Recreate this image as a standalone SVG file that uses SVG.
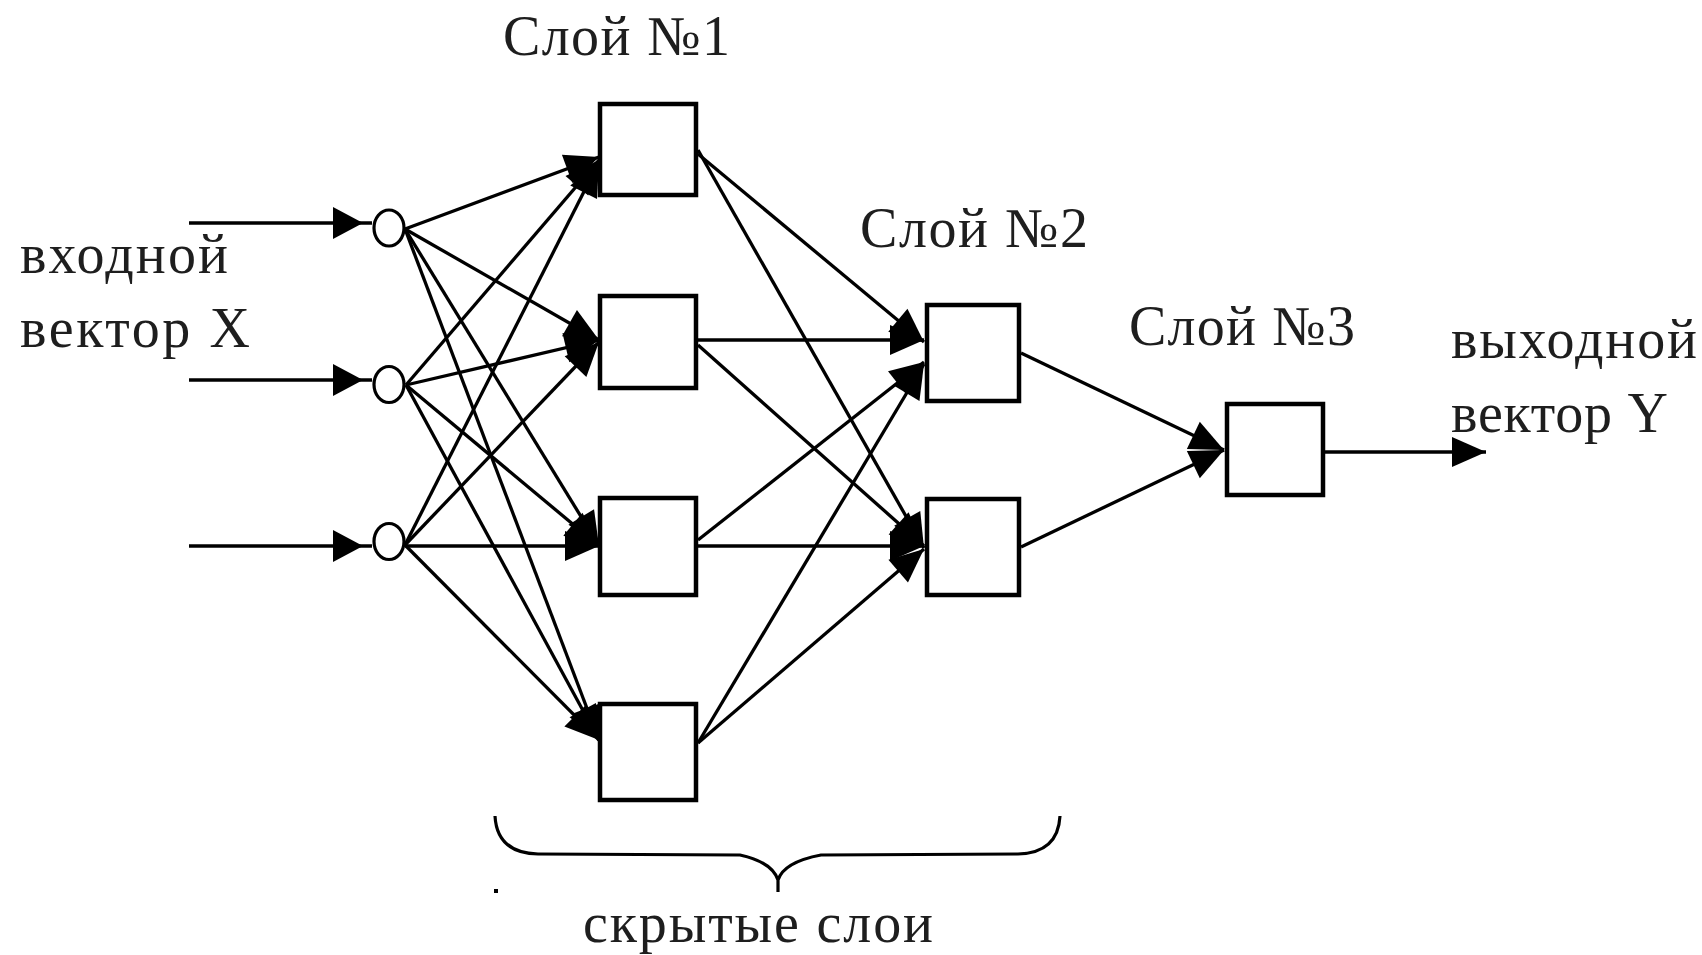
<svg xmlns="http://www.w3.org/2000/svg" width="1702" height="955" viewBox="0 0 1702 955">
<style>
  .bg{fill:#ffffff}
  .box{fill:#ffffff;stroke:#000;stroke-width:4.5}
  .inp{fill:#ffffff;stroke:#000;stroke-width:3.2}
  .conn line{stroke:#000;stroke-width:3.3;fill:none}
  .brace{fill:none;stroke:#000;stroke-width:3.2}
  text{font-family:"Liberation Serif","Times New Roman",serif;font-size:56px;fill:#1e1e1e}
</style>
<defs>
  <marker id="ah" markerUnits="userSpaceOnUse" markerWidth="36" markerHeight="32" refX="34" refY="15" orient="auto" overflow="visible">
    <path d="M0,0 L34,15 L0,30 z" fill="#000"/>
  </marker>
  <marker id="ahin" markerUnits="userSpaceOnUse" markerWidth="42" markerHeight="34" refX="39" refY="16" orient="auto" overflow="visible">
    <path d="M0,0 L30,16 L0,32 z" fill="#000"/>
  </marker>
</defs>
<rect class="bg" x="0" y="0" width="1702" height="955"/>

<g id="connectors" class="conn">
  <!-- inputs -->
  <line x1="189" y1="223" x2="372" y2="223" marker-end="url(#ahin)"/>
  <line x1="189" y1="380" x2="372" y2="380" marker-end="url(#ahin)"/>
  <line x1="189" y1="546" x2="372" y2="546" marker-end="url(#ahin)"/>
  <!-- circle 1 to layer 1 -->
  <line x1="405" y1="229" x2="599" y2="157" marker-end="url(#ah)"/>
  <line x1="405" y1="229" x2="599" y2="340" marker-end="url(#ah)"/>
  <line x1="405" y1="229" x2="599" y2="546" marker-end="url(#ah)"/>
  <line x1="405" y1="229" x2="599" y2="740" marker-end="url(#ah)"/>
  <!-- circle 2 to layer 1 -->
  <line x1="406" y1="385" x2="599" y2="160" marker-end="url(#ah)"/>
  <line x1="406" y1="385" x2="599" y2="340" marker-end="url(#ah)"/>
  <line x1="406" y1="385" x2="599" y2="546" marker-end="url(#ah)"/>
  <line x1="406" y1="385" x2="599" y2="740" marker-end="url(#ah)"/>
  <!-- circle 3 to layer 1 -->
  <line x1="405" y1="545" x2="599" y2="162" marker-end="url(#ah)"/>
  <line x1="405" y1="545" x2="599" y2="342" marker-end="url(#ah)"/>
  <line x1="405" y1="546" x2="599" y2="546" marker-end="url(#ah)"/>
  <line x1="405" y1="545" x2="599" y2="740" marker-end="url(#ah)"/>
  <!-- layer 1 to layer 2 -->
  <line x1="698" y1="154" x2="924" y2="342" marker-end="url(#ah)"/>
  <line x1="698" y1="150" x2="924" y2="548" marker-end="url(#ah)"/>
  <line x1="698" y1="340" x2="924" y2="340" marker-end="url(#ah)"/>
  <line x1="698" y1="345" x2="924" y2="546" marker-end="url(#ah)"/>
  <line x1="698" y1="540" x2="924" y2="362" marker-end="url(#ah)"/>
  <line x1="698" y1="546" x2="924" y2="546" marker-end="url(#ah)"/>
  <line x1="698" y1="743" x2="924" y2="364" marker-end="url(#ah)"/>
  <line x1="698" y1="743" x2="924" y2="549" marker-end="url(#ah)"/>
  <!-- layer 2 to layer 3 -->
  <line x1="1021" y1="353" x2="1224" y2="450" marker-end="url(#ah)"/>
  <line x1="1021" y1="547" x2="1224" y2="450" marker-end="url(#ah)"/>
  <!-- output -->
  <line x1="1325" y1="452" x2="1486" y2="452" marker-end="url(#ah)"/>
</g>

<g id="in1"><ellipse class="inp" cx="389" cy="228" rx="15" ry="18"/></g>
<g id="in2"><ellipse class="inp" cx="389" cy="384.5" rx="15" ry="18"/></g>
<g id="in3"><ellipse class="inp" cx="389" cy="541.5" rx="15" ry="18"/></g>

<g id="l1n1"><rect class="box" x="600" y="104" width="96" height="91"/></g>
<g id="l1n2"><rect class="box" x="600" y="296" width="96" height="92"/></g>
<g id="l1n3"><rect class="box" x="600" y="498" width="96" height="97"/></g>
<g id="l1n4"><rect class="box" x="600" y="704" width="96" height="96"/></g>

<g id="l2n1"><rect class="box" x="927" y="305" width="92" height="96"/></g>
<g id="l2n2"><rect class="box" x="927" y="499" width="92" height="96"/></g>

<g id="l3n1"><rect class="box" x="1227" y="404" width="96" height="91"/></g>

<g id="labels">
  <text x="503" y="55" textLength="227" lengthAdjust="spacing">Слой №1</text>
  <text x="860" y="247" textLength="228" lengthAdjust="spacing">Слой №2</text>
  <text x="1129" y="345" textLength="226" lengthAdjust="spacing">Слой №3</text>
  <text x="20" y="273" textLength="208" lengthAdjust="spacing">входной</text>
  <text x="20" y="347" textLength="230" lengthAdjust="spacing">вектор X</text>
  <text x="1451" y="358" textLength="246" lengthAdjust="spacing">выходной</text>
  <text x="1451" y="432" textLength="217" lengthAdjust="spacing">вектор Y</text>
  <text x="583" y="942" textLength="350" lengthAdjust="spacing">скрытые слои</text>
</g>

<g id="brace">
  <path class="brace" d="M495,816 Q497,853 538,854 L740,855 Q772,862 778,880 L778,892 M778,880 Q784,862 821,855 L1018,854 Q1058,853 1060,816"/>
  <rect x="494" y="889" width="4" height="4" fill="#000"/>
</g>
</svg>
